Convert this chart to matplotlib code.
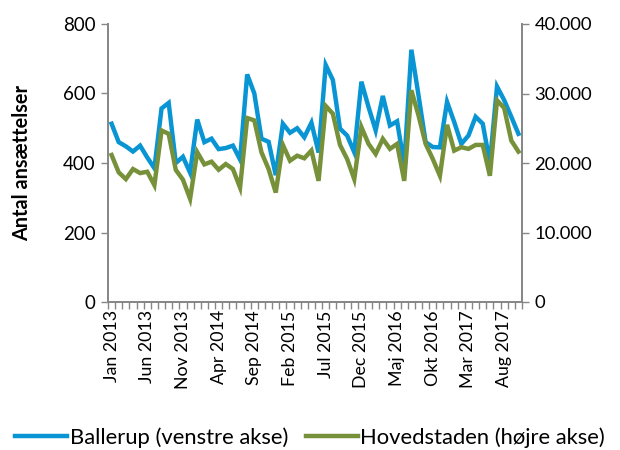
import matplotlib
matplotlib.use('Agg')
import matplotlib.pyplot as plt
from matplotlib.ticker import FuncFormatter, MultipleLocator, FixedLocator

plt.rcParams['font.family'] = ['Lato', 'DejaVu Sans']

# Monthly data Jan 2013 - Okt 2017
months = ['Jan', 'Feb', 'Mar', 'Apr', 'Maj', 'Jun', 'Jul', 'Aug', 'Sep', 'Okt', 'Nov', 'Dec']
labels = [f'{months[i % 12]} {2013 + i // 12}' for i in range(58)]

ballerup = [513, 460, 448, 433, 450, 416, 385, 557, 573, 400,
            418, 372, 525, 460, 470, 440, 443, 450, 410, 655,
            600, 470, 461, 365, 513, 487, 500, 474, 516, 430,
            682, 639, 499, 479, 431, 634, 561, 494, 593, 508,
            520, 395, 726, 595, 460, 446, 445, 576, 518, 455,
            479, 533, 513, 400, 620, 581, 533, 484]

hovedstaden = [21150, 18650, 17680, 19130, 18550, 18740, 16810, 24680, 24200, 19000,
               17600, 14850, 21560, 19800, 20190, 19030, 19850, 19130, 16470, 26470,
               26130, 21540, 19130, 15750, 22600, 20330, 21050, 20680, 21800, 17430,
               28210, 27100, 22600, 20580, 17680, 25170, 22750, 21300, 23470, 22030,
               22750, 17430, 30470, 26850, 22750, 20580, 18160, 25500, 21780, 22270,
               22030, 22600, 22600, 18160, 29020, 27920, 23230, 21640]

blue = '#0995d3'
green = '#76913a'
grey = '#878787'

x = list(range(len(labels)))

fig = plt.figure(figsize=(6.2, 4.5), dpi=100)
ax = fig.add_axes([108 / 620, 1 - 302 / 450, (522 - 108) / 620, (302 - 24) / 450])
ax2 = ax.twinx()

l1, = ax.plot(x, ballerup, color=blue, lw=3.2, solid_joinstyle='miter')
l2, = ax2.plot(x, hovedstaden, color=green, lw=3.2, solid_joinstyle='miter')

ax.set_xlim(-0.5, len(x) - 0.5)
ax.set_ylim(0, 800)
ax2.set_ylim(0, 40000)
ax.yaxis.set_major_locator(MultipleLocator(200))
ax2.yaxis.set_major_locator(MultipleLocator(10000))
ax2.yaxis.set_major_formatter(FuncFormatter(lambda v, p: f'{int(v):,}'.replace(',', '.')))

# labels every 5 months, tick marks between categories
ax.xaxis.set_major_locator(FixedLocator(x[::5]))
ax.set_xticklabels(labels[::5], rotation=90)
ax.xaxis.set_minor_locator(FixedLocator([i - 0.5 for i in range(len(x) + 1)]))
ax.tick_params(axis='x', which='major', length=0, pad=6, labelsize=12.8)
ax.tick_params(axis='x', which='minor', length=5, color=grey, width=1)
ax.tick_params(axis='y', length=5, color=grey, width=1, labelsize=13.5, pad=4)
ax2.tick_params(axis='y', length=5, color=grey, width=1, labelsize=13.3, pad=4)

for a in (ax, ax2):
    a.spines['top'].set_visible(False)
    for s in ('left', 'right', 'bottom'):
        a.spines[s].set_color(grey)
        a.spines[s].set_linewidth(1.3)

ax.set_ylabel('Antal ansættelser', fontsize=14.3, fontweight='bold', labelpad=22)

fig.legend([l1, l2], ['Ballerup (venstre akse)', 'Hovedstaden (højre akse)'],
           loc='center', bbox_to_anchor=(0.5, 0.027), ncol=2, frameon=False,
           fontsize=15.8, handlelength=2.4, handletextpad=0.1, columnspacing=0.8,
           borderpad=0.1, borderaxespad=0.1)

fig.savefig('out.png', dpi=100)
